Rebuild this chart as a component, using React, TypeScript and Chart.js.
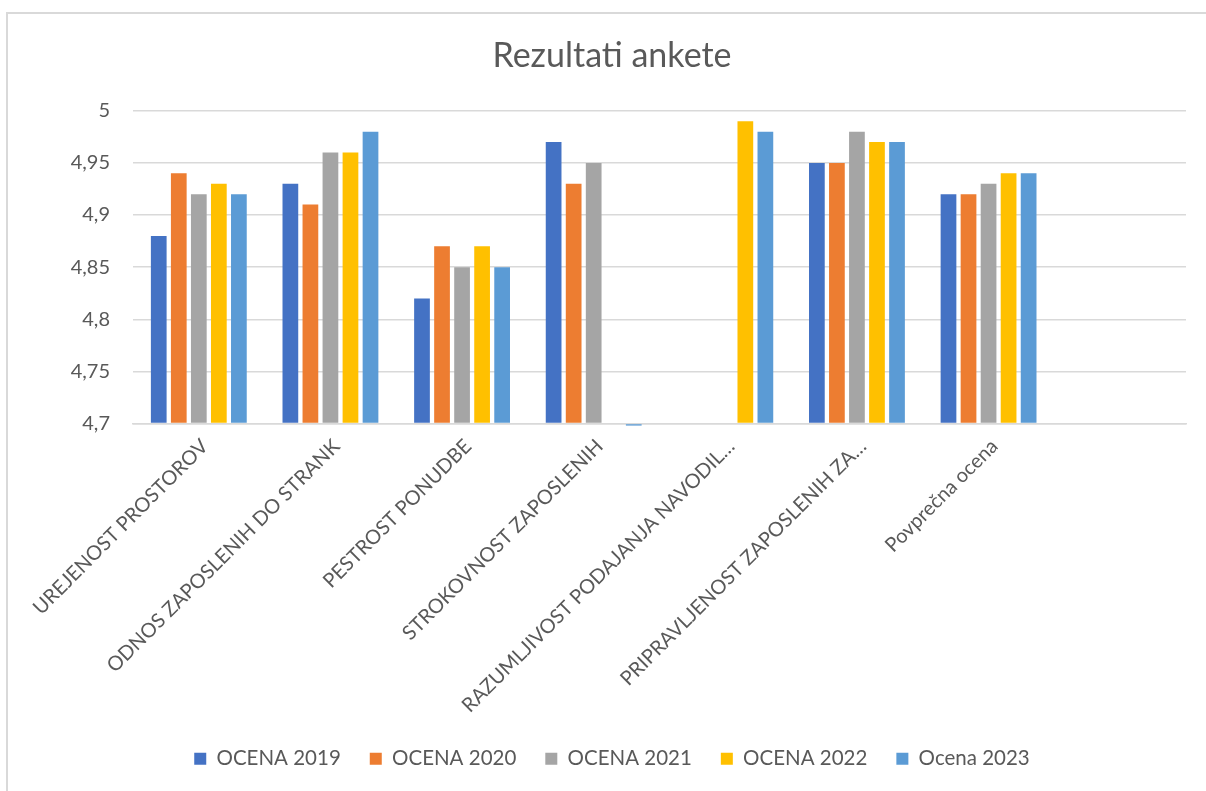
import React, { useEffect, useRef } from "react";
import { Chart, registerables } from "chart.js";

Chart.register(...registerables);

const TITLE = "Rezultati ankete";
const CATEGORIES = [
  "UREJENOST PROSTOROV",
  "ODNOS ZAPOSLENIH DO STRANK",
  "PESTROST PONUDBE",
  "STROKOVNOST ZAPOSLENIH",
  "RAZUMLJIVOST PODAJANJA NAVODIL…",
  "PRIPRAVLJENOST ZAPOSLENIH ZA…",
  "Povprečna ocena",
  "",
];
const SERIES_LABELS = ["OCENA 2019", "OCENA 2020", "OCENA 2021", "OCENA 2022", "Ocena 2023"];
const OCENA_2019 = [4.88, 4.93, 4.82, 4.97, null, 4.95, 4.92, null];
const OCENA_2020 = [4.94, 4.91, 4.87, 4.93, null, 4.95, 4.92, null];
const OCENA_2021 = [4.92, 4.96, 4.85, 4.95, null, 4.98, 4.93, null];
const OCENA_2022 = [4.93, 4.96, 4.87, null, 4.99, 4.97, 4.94, null];
const OCENA_2023 = [4.92, 4.98, 4.85, 4.698, 4.98, 4.97, 4.94, null];
const SERIES_COLORS = ["#4472C4", "#ED7D31", "#A5A5A5", "#FFC000", "#5B9BD5"];
const Y_MIN = 4.7;
const Y_MAX = 5;
const Y_STEP = 0.05;

const FONT = "Lato, 'Open Sans', sans-serif";
const TEXT = "#595959";
const GRID = "#d9d9d9";

export default function App() {
  const ref = useRef<HTMLCanvasElement | null>(null);
  useEffect(() => {
    if (!ref.current) return;
    const values = [OCENA_2019, OCENA_2020, OCENA_2021, OCENA_2022, OCENA_2023];
    const chart = new Chart(ref.current, {
      type: "bar",
      data: {
        labels: CATEGORIES,
        datasets: values.map((v, i) => ({
          label: SERIES_LABELS[i],
          data: v,
          backgroundColor: SERIES_COLORS[i],
          borderWidth: 0,
          categoryPercentage: 0.761,
          barPercentage: 0.785,
          base: Y_MIN,
          clip: false,
        })),
      },
      options: {
        responsive: false,
        devicePixelRatio: 1,
        animation: false,
        layout: { padding: { left: 38, right: 20, top: 0, bottom: 12 } },
        plugins: {
          title: {
            display: true,
            text: TITLE,
            color: TEXT,
            font: { family: FONT, size: 34, weight: "normal" },
            padding: { top: 36, bottom: 34 },
          },
          legend: {
            position: "bottom",
            labels: {
              boxWidth: 12,
              boxHeight: 12,
              padding: 29,
              color: TEXT,
              font: { family: FONT, size: 20.5 },
            },
          },
          tooltip: { enabled: false },
        },
        scales: {
          x: {
            grid: { display: false },
            border: { display: true, color: GRID, width: 1.5 },
            ticks: {
              color: TEXT,
              font: { family: FONT, size: 20 },
              maxRotation: 45,
              minRotation: 45,
              padding: 3,
              labelOffset: 6,
              autoSkip: false,
            },
            afterFit: (s: any) => {
              s.height = 296;
            },
          },
          y: {
            min: Y_MIN,
            max: Y_MAX,
            ticks: {
              stepSize: Y_STEP,
              padding: 23,
              color: TEXT,
              font: { family: FONT, size: 20 },
              callback: (v: any) => String(Math.round(Number(v) * 100) / 100).replace(".", ","),
            },
            grid: { color: GRID, lineWidth: 1.5, drawTicks: false },
            border: { display: false },
            afterFit: (s: any) => {
              s.width = 95;
            },
          },
        },
      },
    });
    return () => chart.destroy();
  }, []);

  return (
    <div
      style={{
        position: "fixed",
        left: 0,
        top: 0,
        width: 1206,
        height: 791,
        overflow: "hidden",
        background: "#fff",
      }}
    >
      <div
        style={{
          position: "absolute",
          left: 6,
          top: 12,
          width: 1300,
          height: 900,
          border: `2px solid ${GRID}`,
        }}
      />
      <canvas ref={ref} width={1206} height={791} style={{ position: "absolute", left: 0, top: 0 }} />
    </div>
  );
}
